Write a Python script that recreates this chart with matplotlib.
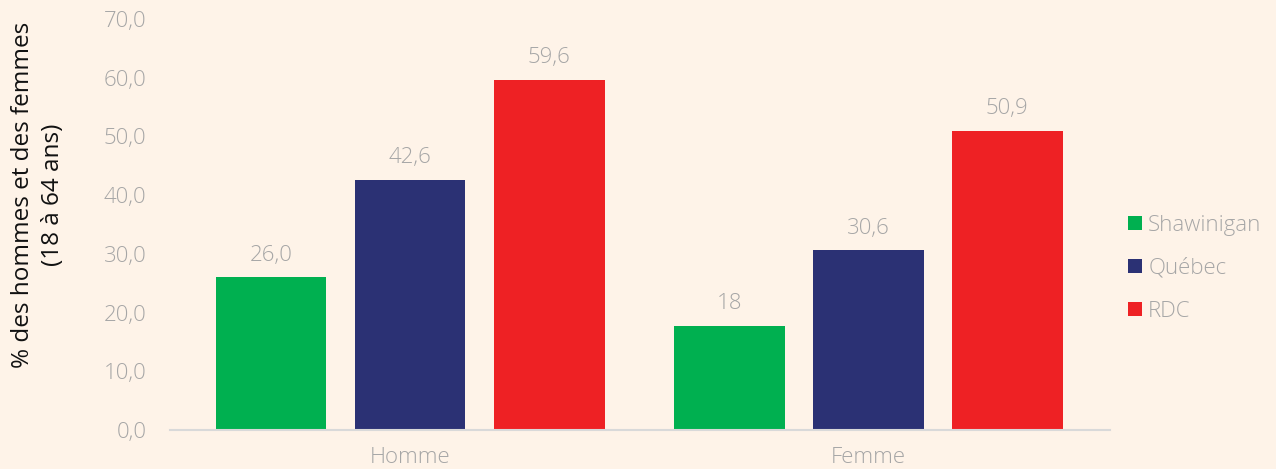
import numpy as np
import matplotlib.pyplot as plt

categories = ["Homme", "Femme"]
series_names = ["Shawinigan", "Québec", "RDC"]
shawinigan = [26.0, 17.7]
quebec = [42.6, 30.6]
rdc = [59.6, 50.9]
value_labels = [["26,0", "18"], ["42,6", "30,6"], ["59,6", "50,9"]]
yticks = [0, 10, 20, 30, 40, 50, 60, 70]
ytick_labels = ["0,0", "10,0", "20,0", "30,0", "40,0", "50,0", "60,0", "70,0"]

colors = ["#00b050", "#2b3174", "#ee2124"]
bg = "#fef3e8"
grey = "#a6a6a6"
fs = 16

plt.rcParams["font.family"] = ["Open Sans", "DejaVu Sans"]

fig = plt.figure(figsize=(12.76, 4.69), dpi=100, facecolor=bg)
ax = fig.add_axes([0.1332, 0.0832, 0.7368, 0.8763], facecolor=bg)

x = np.arange(len(categories))
step = 0.3035
width = 0.242
for i, (vals, name) in enumerate(zip([shawinigan, quebec, rdc], series_names)):
    pos = x + (i - 1) * step
    ax.bar(pos, vals, width=width, color=colors[i], label=name, zorder=2)
    for p, v, lab in zip(pos, vals, value_labels[i]):
        ax.text(p, v + 2.0, lab, ha="center", va="bottom", fontsize=fs,
                color=grey, fontweight="light")

ax.set_xlim(-0.524, 1.528)
ax.set_ylim(0, 70)
ax.set_yticks(yticks)
ax.set_yticklabels(ytick_labels, fontsize=fs, color=grey, fontweight="light")
ax.set_xticks(x)
ax.set_xticklabels(categories, fontsize=fs, color=grey, fontweight="light")
ax.tick_params(axis="both", length=0)
ax.tick_params(axis="y", pad=17)
ax.tick_params(axis="x", pad=12)
for s in ["top", "right", "left"]:
    ax.spines[s].set_visible(False)
ax.spines["bottom"].set_color("#d9d9d9")
ax.spines["bottom"].set_linewidth(1.5)

fig.text(0.030, 0.585, "% des hommes et des femmes\n(18 à 64 ans)", rotation=90,
         ha="center", va="center", fontsize=17.5, color="#111111",
         fontweight="medium", multialignment="center", linespacing=1.35)

leg = ax.legend(loc="center left", bbox_to_anchor=(0.998, 0.393), frameon=False,
                fontsize=fs, handlelength=0.6, handleheight=0.6,
                handletextpad=0.3, labelspacing=1.0)
for t in leg.get_texts():
    t.set_color(grey)
    t.set_fontweight("light")

fig.savefig("out.png", dpi=100, facecolor=bg)
